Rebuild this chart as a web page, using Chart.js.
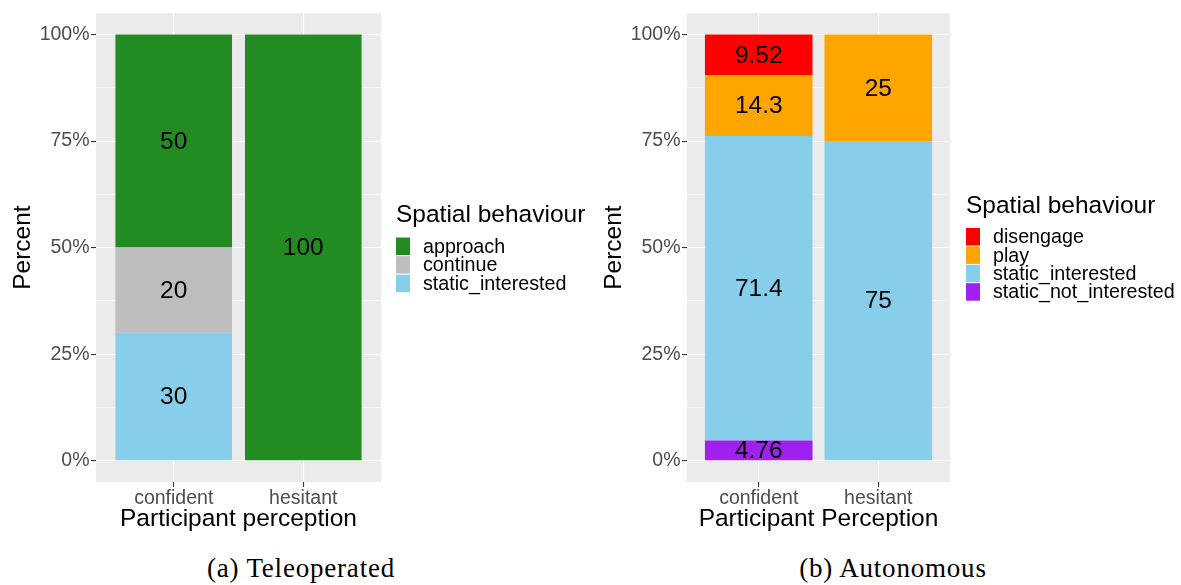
<!DOCTYPE html>
<html>
<head>
<meta charset="utf-8">
<script src="https://cdn.jsdelivr.net/npm/chart.js@4.4.1/dist/chart.umd.min.js"></script>
<style>
  html, body { margin: 0; padding: 0; background: #ffffff; width: 1181px; height: 585px; overflow: hidden; }
  .panel { position: absolute; top: 0; height: 540px; }
  #w1 { left: 0; width: 591px; }
  #w2 { left: 591px; width: 590px; }
  .cap { position: absolute; top: 555px; font-family: "Liberation Serif", "DejaVu Serif", serif; font-size: 27px; letter-spacing: 0.8px; line-height: 1; color: #000; transform: translateX(-50%); white-space: nowrap; }
</style>
</head>
<body>
<div class="panel" id="w1"><canvas id="c1" width="591" height="540"></canvas></div>
<div class="panel" id="w2"><canvas id="c2" width="590" height="540"></canvas></div>
<div class="cap" style="left:301px">(a) Teleoperated</div>
<div class="cap" style="left:893px">(b) Autonomous</div>
<script>
// Participant perception categories (shared by both panels)
const categories = ['confident', 'hesitant'];
const yTicks = [0, 25, 50, 75, 100];
const yMinorTicks = [12.5, 37.5, 62.5, 87.5];

// (a) Teleoperated, percent per category, listed bottom to top of each stack
const teleStaticInterested = [30, 0];
const teleContinue = [20, 0];
const teleApproach = [50, 100];

// (b) Autonomous, percent per category, listed bottom to top of each stack
const autoStaticNotInterested = [4.76, 0];
const autoStaticInterested = [71.4, 75];
const autoPlay = [14.3, 25];
const autoDisengage = [9.52, 0];

const SANS = '"Liberation Sans", Arial, Helvetica, sans-serif';

function series(label, values, color) {
  return {
    label: label,
    data: values.map((v, i) => ({ x: i + 1, y: v })),
    backgroundColor: color,
    borderWidth: 0,
    barPercentage: 0.9,
    categoryPercentage: 1.0
  };
}

// grey panel behind the grid
const panelBackground = {
  id: 'panelBackground',
  beforeDraw(chart) {
    const a = chart.chartArea, ctx = chart.ctx;
    ctx.save();
    ctx.fillStyle = '#EBEBEB';
    ctx.fillRect(a.left, a.top, a.right - a.left, a.bottom - a.top);
    ctx.restore();
  }
};

// value printed in the middle of every non-empty segment
const segmentLabels = {
  id: 'segmentLabels',
  afterDatasetsDraw(chart) {
    const ctx = chart.ctx;
    ctx.save();
    ctx.font = '24.5px ' + SANS;
    ctx.fillStyle = '#000000';
    ctx.textAlign = 'center';
    ctx.textBaseline = 'middle';
    chart.data.datasets.forEach((ds, di) => {
      const meta = chart.getDatasetMeta(di);
      meta.data.forEach((bar, i) => {
        const v = ds.data[i].y;
        if (!v) return;
        ctx.fillText(String(v), bar.x, (bar.y + bar.base) / 2 + 1);
      });
    });
    ctx.restore();
  }
};

// ggplot-style legend: title, then keys in reverse stacking order
const sideLegend = {
  id: 'sideLegend',
  afterDraw(chart, args, opts) {
    const ctx = chart.ctx;
    ctx.save();
    ctx.fillStyle = '#000000';
    ctx.textAlign = 'left';
    ctx.textBaseline = 'alphabetic';
    ctx.font = '24.5px ' + SANS;
    ctx.fillText(opts.title, opts.x, opts.titleBaseline);
    ctx.font = '19.7px ' + SANS;
    ctx.textBaseline = 'middle';
    const items = chart.data.datasets.slice().reverse();
    items.forEach((ds, k) => {
      const top = opts.keyTop + k * opts.step;
      ctx.fillStyle = ds.backgroundColor;
      ctx.fillRect(opts.x, top, 14, 17.5);
      ctx.fillStyle = '#000000';
      ctx.fillText(ds.label, opts.textX, top + 8.75 + 1);
    });
    ctx.restore();
  }
};

function makeChart(canvasId, datasets, xTitle, rightPad, legendOpts) {
  return new Chart(document.getElementById(canvasId), {
    type: 'bar',
    data: { datasets: datasets },
    plugins: [panelBackground, segmentLabels, sideLegend],
    options: {
      responsive: false,
      animation: false,
      devicePixelRatio: 1,
      layout: { padding: { left: 0, top: 12, right: rightPad, bottom: 0 } },
      plugins: {
        legend: { display: false },
        tooltip: { enabled: false },
        sideLegend: legendOpts
      },
      scales: {
        x: {
          type: 'linear',
          stacked: true,
          offset: false,
          min: 0.4,
          max: 2.6,
          afterBuildTicks(scale) { scale.ticks = categories.map((c, i) => ({ value: i + 1 })); },
          afterFit(scale) { scale.height = 58; },
          border: { display: false },
          grid: { offset: false, color: '#FFFFFF', lineWidth: 1.1, drawTicks: true, tickLength: 5, tickColor: '#333333', tickWidth: 1.1 },
          ticks: {
            padding: 0,
            maxRotation: 0,
            autoSkip: false,
            color: '#4D4D4D',
            font: { family: SANS, size: 19.5 },
            callback: (v) => categories[Math.round(v) - 1]
          },
          title: {
            display: true,
            text: xTitle,
            color: '#000000',
            font: { family: SANS, size: 24.5 },
            padding: { top: 0, bottom: 6 }
          }
        },
        y: {
          type: 'linear',
          stacked: true,
          min: -5,
          max: 105,
          afterBuildTicks(scale) {
            scale.ticks = yTicks.concat(yMinorTicks).sort((a, b) => a - b).map(v => ({ value: v }));
          },
          afterFit(scale) { scale.width = 96; },
          border: { display: false },
          grid: {
            color: '#FFFFFF',
            lineWidth: (c) => (c.tick && yTicks.includes(c.tick.value)) ? 1.1 : 0.55,
            drawTicks: true,
            tickLength: 5,
            tickWidth: 1.1,
            tickColor: (c) => (c.tick && yTicks.includes(c.tick.value)) ? '#333333' : 'rgba(0,0,0,0)'
          },
          ticks: {
            padding: 1.5,
            autoSkip: false,
            color: '#4D4D4D',
            font: { family: SANS, size: 19.5 },
            callback: (v) => yTicks.includes(v) ? v + '%' : ''
          },
          title: {
            display: true,
            text: 'Percent',
            color: '#000000',
            font: { family: SANS, size: 24.5 },
            padding: { top: 8.5, bottom: 0 }
          }
        }
      }
    }
  });
}

makeChart('c1', [
  series('static_interested', teleStaticInterested, '#87CEEB'),
  series('continue', teleContinue, '#BEBEBE'),
  series('approach', teleApproach, '#228B22')
], 'Participant perception', 210,
  { title: 'Spatial behaviour', x: 396, textX: 423, titleBaseline: 222, keyTop: 237.5, step: 18.6 });

makeChart('c2', [
  series('static_not_interested', autoStaticNotInterested, '#A020F0'),
  series('static_interested', autoStaticInterested, '#87CEEB'),
  series('play', autoPlay, '#FFA500'),
  series('disengage', autoDisengage, '#FF0000')
], 'Participant Perception', 231,
  { title: 'Spatial behaviour', x: 375, textX: 402, titleBaseline: 213, keyTop: 228, step: 18.4 });
</script>
</body>
</html>
